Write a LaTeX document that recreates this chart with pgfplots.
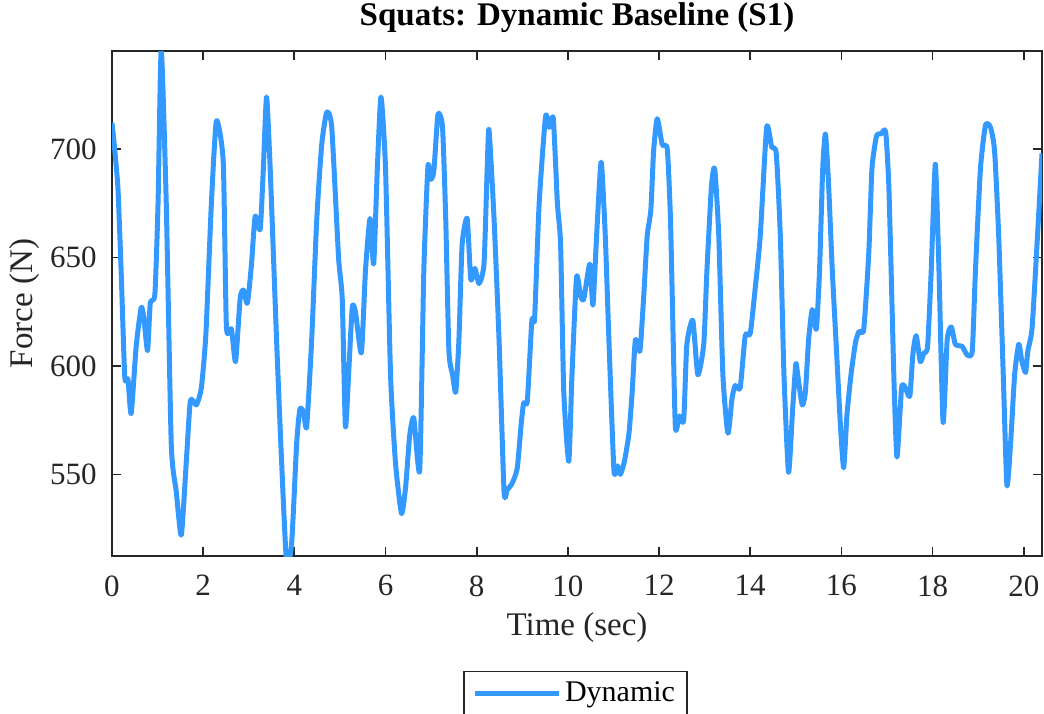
\documentclass[border=0pt]{standalone}
\usepackage{pgfplots}
\pgfplotsset{compat=1.18}
\usepackage{fontspec}
\setmainfont{Liberation Serif}
\definecolor{lineblue}{RGB}{51,153,255}
\definecolor{axgray}{RGB}{38,38,38}
\begin{document}
\begin{tikzpicture}
\begin{axis}[
  scale only axis,
  width=465pt, height=252.5pt,
  xmin=0, xmax=20.4, ymin=512.4, ymax=745.2,
  xtick={0,2,...,20}, ytick={550,600,650,700},
  tick align=inside, major tick length=4.5pt,
  axis line style={axgray, line width=0.9pt},
  every tick/.style={axgray, line width=0.9pt},
  /pgf/number format/assume math mode=true,
  tick label style={font=\fontsize{15.5}{18}\selectfont, text=axgray, inner sep=0pt},
  xticklabel style={anchor=north, yshift=-9.5pt},
  yticklabel style={anchor=east, xshift=-7.5pt},
  title={\textbf{Squats: Dynamic Baseline (S1)}},
  title style={font=\fontsize{16.5}{19}\selectfont, at={(0.5,1)}, anchor=base, yshift=7pt, inner sep=0pt},
  xlabel={Time (sec)}, ylabel={Force (N)},
  label style={font=\fontsize{16.5}{19}\selectfont, text=axgray},
  xlabel style={at={(axis description cs:0.5,0)}, anchor=center, yshift=-36pt},
  ylabel style={at={(axis description cs:-0.0935,0.5)}, anchor=center},
  legend style={at={(0.4984,-0.2277)}, anchor=north, draw=axgray, line width=0.6pt,
    font=\fontsize{15}{17}\selectfont, inner xsep=4pt, inner ysep=3pt},
  legend image code/.code={\draw[#1] (0pt,0pt) -- (42pt,0pt);},
]
\addplot[lineblue, line width=2.5pt, line join=round, smooth, tension=0.35] coordinates {
(0,712)(0.05,702)(0.13,682)(0.2,644)(0.28,595)(0.35,594)(0.42,578)(0.53,609)(0.64,627)(0.7,622)(0.78,607)(0.84,629)(0.94,633)(1.01,675)(1.08,746)(1.19,675)(1.30,564)(1.41,542)(1.52,522)(1.63,556)(1.72,584)(1.85,582)(1.96,590)(2.06,615)(2.18,675)(2.29,713)(2.44,694)(2.51,618)(2.62,617)(2.71,602)(2.81,631)(2.88,635)(2.97,629)(3.06,647)(3.14,669)(3.25,663)(3.32,691)(3.39,724)(3.47,691)(3.61,612)(3.72,556)(3.83,509)(3.94,518)(4.05,564)(4.12,580)(4.2,579)(4.27,572)(4.38,612)(4.49,667)(4.6,702)(4.71,717)(4.82,710)
(4.97,650)(5.05,631)(5.12,572)(5.19,596)(5.27,627)(5.34,625)(5.47,606)(5.56,644)(5.66,668)(5.74,647)(5.82,691)(5.90,724)(6.0,691)(6.11,596)(6.22,555)(6.35,532)(6.44,544)(6.53,568)(6.62,576)(6.75,552)(6.84,644)(6.93,692)(6.99,686)(7.06,690)(7.15,716)(7.25,710)(7.32,668)(7.39,607)(7.47,596)(7.54,588)(7.61,612)(7.68,656)(7.79,668)(7.87,640)(7.96,645)(8.05,638)(8.16,647)(8.23,691)(8.27,709)(8.38,668)(8.49,612)(8.60,542)(8.67,543)(8.78,546)(8.89,553)(8.97,572)(9.03,583)(9.11,584)(9.21,621)(9.27,622)(9.37,675)(9.51,715)(9.59,710)(9.68,714)(9.77,675)
(9.84,656)(9.91,588)(10.02,556)(10.09,596)(10.19,641)(10.28,632)(10.35,631)(10.48,647)(10.55,628)(10.63,660)(10.73,694)(10.82,660)(10.90,612)(11.01,552)(11.09,554)(11.15,550)(11.24,556)(11.34,569)(11.41,588)(11.48,612)(11.58,607)(11.66,631)(11.74,660)(11.82,672)(11.88,699)(11.96,714)(12.07,702)(12.18,700)(12.25,668)(12.31,612)(12.36,571)(12.45,577)(12.54,575)(12.61,610)(12.74,621)(12.85,596)(12.98,610)(13.05,644)(13.15,683)(13.22,691)(13.31,660)(13.40,596)(13.51,569)(13.60,585)(13.67,591)(13.78,590)(13.89,614)(14.0,615)(14.11,636)(14.22,660)(14.36,710)(14.47,701)(14.57,698)(14.66,660)(14.74,596)(14.84,551)(14.93,580)(15.0,601)
(15.04,596)(15.14,582)(15.21,588)(15.28,612)(15.36,626)(15.45,617)(15.52,644)(15.59,691)(15.65,707)(15.72,683)(15.80,644)(15.90,604)(15.98,572)(16.05,553)(16.12,577)(16.21,596)(16.31,611)(16.39,616)(16.49,617)(16.60,652)(16.67,691)(16.77,706)(16.87,707)(16.97,708)(17.04,683)(17.11,628)(17.16,588)(17.22,558)(17.32,590)(17.40,590)(17.50,586)(17.57,606)(17.64,614)(17.73,602)(17.81,606)(17.89,609)(17.97,644)(18.06,693)(18.14,644)(18.23,574)(18.32,612)(18.41,618)(18.50,610)(18.65,609)(18.76,605)(18.87,607)(18.94,644)(19.05,691)(19.16,711)(19.27,710)(19.36,699)(19.45,660)(19.55,596)(19.63,545)(19.71,564)(19.80,596)(19.89,610)(19.96,602)(20.04,597)(20.09,607)(20.18,617)(20.28,652)(20.40,698)
};
\addlegendentry{Dynamic}
\end{axis}
\pgfresetboundingbox
\path[use as bounding box] (-56pt,-78.5pt) rectangle (466pt,278pt);
\end{tikzpicture}
\end{document}
